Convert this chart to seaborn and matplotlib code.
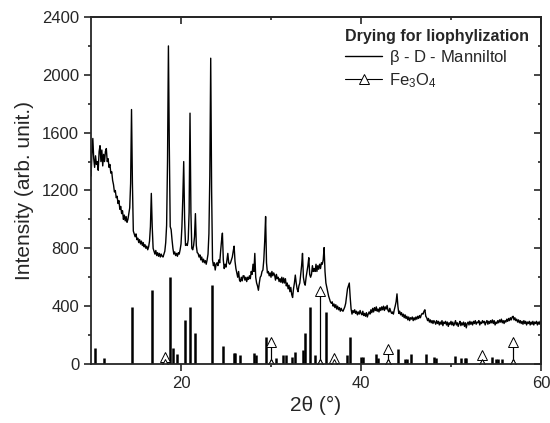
import numpy as np
import pandas as pd
import matplotlib
matplotlib.use("Agg")
import matplotlib.pyplot as plt
import seaborn as sns

sns.set_style("ticks")
plt.rcParams["font.family"] = ["Liberation Sans", "DejaVu Sans"]
plt.rcParams["mathtext.default"] = "regular"

# measured pattern, 0.1 deg step from 10.0 to 60.0 (one row per degree)
pattern_counts = [
    1300, 1450, 1560, 1420, 1360, 1440, 1380, 1400, 1340, 1470,   # 10
    1510, 1400, 1480, 1370, 1450, 1400, 1470, 1490, 1400, 1420,   # 11
    1360, 1380, 1320, 1330, 1270, 1240, 1190, 1200, 1150, 1160,   # 12
    1110, 1130, 1070, 1090, 1040, 1060, 1000, 1030, 990, 1020,    # 13
    980, 1000, 1040, 1080, 1250, 1760, 1250, 920, 900, 880,       # 14
    900, 860, 870, 840, 860, 830, 850, 820, 840, 810,             # 15
    825, 800, 815, 790, 810, 850, 950, 1180, 950, 800,            # 16
    780, 760, 785, 750, 770, 745, 765, 740, 760, 745,             # 17
    740, 760, 780, 840, 960, 1400, 2200, 1500, 950, 930,          # 18
    860, 800, 760, 775, 750, 765, 745, 770, 760, 790,             # 19
    830, 950, 1150, 1400, 1000, 820, 830, 820, 860, 1050,         # 20
    1735, 1050, 800, 790, 820, 880, 1040, 820, 770, 765,          # 21
    740, 755, 720, 740, 705, 725, 700, 715, 690, 720,             # 22
    760, 900, 1300, 2115, 1200, 720, 680, 700, 650, 690,          # 23
    700, 680, 720, 700, 780, 850, 905, 720, 660, 690,             # 24
    670, 720, 765, 700, 690, 700, 720, 740, 780, 815,             # 25
    710, 660, 630, 600, 640, 580, 570, 600, 575, 610,             # 26
    610, 580, 600, 570, 600, 585, 610, 590, 640, 620,             # 27
    690, 640, 765, 600, 560, 540, 510, 560, 600, 610,             # 28
    640, 650, 720, 850, 1020, 700, 630, 640, 610, 630,            # 29
    600, 640, 610, 630, 615, 580, 620, 590, 600, 570,             # 30
    590, 565, 600, 560, 595, 560, 590, 540, 560, 520,             # 31
    545, 500, 530, 480, 460, 520, 560, 615, 560, 520,             # 32
    500, 540, 560, 620, 680, 765, 600, 560, 545, 600,             # 33
    640, 680, 735, 620, 600, 620, 680, 640, 660, 640,             # 34
    690, 640, 680, 655, 690, 660, 700, 690, 720, 805,             # 35
    640, 560, 530, 500, 470, 450, 430, 420, 430, 400,             # 36
    415, 390, 410, 380, 400, 375, 390, 365, 385, 370,             # 37
    365, 380, 395, 420, 470, 520, 540, 560, 460, 380,             # 38
    345, 370, 355, 375, 350, 365, 340, 360, 345, 370,             # 39
    350, 340, 365, 335, 350, 330, 355, 325, 345, 360,             # 40
    345, 375, 355, 385, 360, 390, 370, 395, 365, 380,             # 41
    360, 390, 370, 395, 375, 400, 370, 395, 380, 405,             # 42
    370, 360, 385, 365, 350, 360, 345, 375, 400, 430,             # 43
    485, 400, 350, 365, 340, 355, 330, 345, 320, 340,             # 44
    315, 330, 305, 325, 300, 320, 310, 325, 300, 320,             # 45
    305, 325, 310, 330, 315, 335, 320, 340, 350, 345,             # 46
    365, 375, 330, 320, 300, 315, 290, 305, 285, 300,             # 47
    280, 300, 290, 275, 300, 280, 295, 270, 290, 275,             # 48
    300, 265, 290, 280, 295, 270, 290, 260, 285, 275,             # 49
    295, 270, 290, 265, 280, 300, 270, 285, 260, 280,             # 50
    295, 265, 285, 270, 290, 260, 285, 250, 280, 290,             # 51
    270, 295, 275, 290, 270, 295, 280, 300, 275, 290,             # 52
    285, 300, 270, 290, 280, 300, 285, 295, 270, 290,             # 53
    300, 275, 295, 280, 300, 285, 305, 280, 300, 270,             # 54
    290, 280, 300, 285, 305, 290, 310, 285, 300, 280,             # 55
    300, 290, 310, 295, 315, 300, 320, 305, 325, 330,             # 56
    305, 320, 300, 310, 290, 305, 285, 300, 280, 295,             # 57
    275, 300, 280, 295, 270, 290, 280, 295, 270, 290,             # 58
    275, 295, 270, 290, 280, 295, 270, 290, 275, 295,             # 59
    280,                                                          # 60
]
pattern_2theta = np.round(np.linspace(10, 60, len(pattern_counts)), 1)

# reference lines, beta-D-mannitol
mannitol_2theta = [10.4, 11.4, 14.6, 16.8, 18.8, 19.1, 19.6, 20.4, 21.0, 21.6,
                   23.4, 24.7, 25.9, 26.0, 26.5, 28.1, 28.3, 29.4, 30.6, 31.3,
                   31.7, 32.3, 32.7, 33.5, 33.8, 34.3, 34.9, 36.1, 38.4, 38.8,
                   40.0, 40.2, 41.7, 41.9, 44.1, 44.9, 45.1, 45.6, 47.2, 48.1,
                   48.3, 50.4, 51.1, 51.6, 51.7, 54.6, 55.0, 55.2, 55.7]
mannitol_int = [113, 39, 392, 512, 604, 110, 70, 304, 396, 217,
                546, 124, 73, 73, 65, 75, 65, 184, 40, 60,
                60, 50, 85, 100, 213, 394, 62, 362, 65, 184,
                45, 45, 70, 40, 101, 35, 35, 70, 70, 45,
                40, 55, 40, 40, 40, 45, 35, 35, 35]

# reference lines, Fe3O4
fe_2theta = [18.2, 30.0, 35.4, 37.0, 43.0, 53.4, 56.9]
fe_int = [50, 150, 505, 40, 104, 60, 154]

pattern = pd.DataFrame({"two_theta": pattern_2theta, "counts": pattern_counts})

# each Fe3O4 line goes 0 -> peak -> 0 so it draws as a drop line with markers
fe_rows = []
for pos, h in zip(fe_2theta, fe_int):
    fe_rows += [(pos, 0), (pos, h), (pos, 0)]
fe = pd.DataFrame(fe_rows, columns=["two_theta", "counts"])

fig = plt.figure(figsize=(5.5, 4.23), dpi=100)
ax = fig.add_axes([0.1655, 0.1395, 0.8181, 0.8203])

ax.vlines(mannitol_2theta, 0, mannitol_int, color="black", lw=1.8)
sns.lineplot(data=pattern, x="two_theta", y="counts", ax=ax, color="black",
             lw=1.0, estimator=None, sort=False, label=r"$\beta$ - D - Manniltol")
sns.lineplot(data=fe, x="two_theta", y="counts", ax=ax, color="black", lw=0.8,
             estimator=None, sort=False, marker="^", markersize=6.5,
             markerfacecolor="white", markeredgecolor="black", markeredgewidth=0.7,
             label="Fe$_3$O$_4$")

ax.set_xlim(10, 60)
ax.set_ylim(0, 2400)
ax.set_xticks([20, 40, 60])
ax.set_xticks([30, 50], minor=True)
ax.set_yticks(np.arange(0, 2401, 400))
ax.set_yticks(np.arange(200, 2400, 400), minor=True)
ax.tick_params(which="major", direction="out", length=5, width=1.2, labelsize=12)
ax.tick_params(which="minor", direction="out", length=2.5, width=1.2)

# mirrored ticks on top / right pointing inward
top = ax.secondary_xaxis("top")
top.set_xticks([20, 40, 60])
top.set_xticks([30, 50], minor=True)
top.tick_params(which="major", direction="in", length=5, width=1.2, labeltop=False)
top.tick_params(which="minor", direction="in", length=2.5, width=1.2)
right = ax.secondary_yaxis("right")
right.set_yticks(np.arange(0, 2401, 400))
right.set_yticks(np.arange(200, 2400, 400), minor=True)
right.tick_params(which="major", direction="in", length=5, width=1.2, labelright=False)
right.tick_params(which="minor", direction="in", length=2.5, width=1.2)
for s in list(ax.spines.values()) + [top.spines["top"], right.spines["right"]]:
    s.set_linewidth(1.3)

ax.set_xlabel("2θ (°)", fontsize=15, labelpad=4)
ax.set_ylabel("Intensity (arb. unit.)", fontsize=15, labelpad=6)

leg = ax.legend(loc="upper right", frameon=False, fontsize=12,
                title="Drying for liophylization",
                title_fontproperties={"weight": "bold", "size": 11.5},
                handlelength=2.2, handletextpad=0.4, labelspacing=0.25,
                borderaxespad=0.3)
leg._legend_box.align = "left"

fig.savefig("out.png", dpi=100)
